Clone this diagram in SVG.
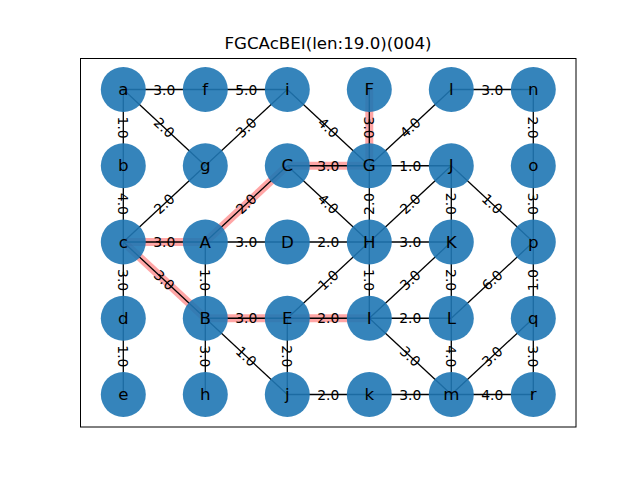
<svg xmlns="http://www.w3.org/2000/svg" width="640" height="480" viewBox="0 0 640 480">
<style>
.e{stroke:#000;stroke-width:1.3;fill:none}
.hl{stroke:#ff0000;stroke-opacity:0.35;stroke-width:8;fill:none}
.n circle{fill:#1f77b4;fill-opacity:0.9}
.n text{font-family:"DejaVu Sans",sans-serif;font-size:16.67px;fill:#000;text-anchor:middle;dominant-baseline:central}
.el{font-family:"DejaVu Sans",sans-serif;font-size:13.89px;fill:#000;text-anchor:middle;dominant-baseline:central}
.t{font-family:"DejaVu Sans",sans-serif;font-size:16.67px;fill:#000;text-anchor:middle}
</style>
<rect width="640" height="480" fill="#fff"/>
<rect x="80.5" y="58.5" width="495.5" height="368.5" fill="none" stroke="#000" stroke-width="1"/>
<text class="t" x="328" y="49">FGCAcBEI(len:19.0)(004)</text>
<g id="connectors">
<g id="highlight">
<line class="hl" x1="369.3" y1="89.5" x2="369.3" y2="165.75"/>
<line class="hl" x1="287.3" y1="165.75" x2="369.3" y2="165.75"/>
<line class="hl" x1="287.3" y1="165.75" x2="205.3" y2="242"/>
<line class="hl" x1="123.3" y1="242" x2="205.3" y2="242"/>
<line class="hl" x1="123.3" y1="242" x2="205.3" y2="318.25"/>
<line class="hl" x1="205.3" y1="318.25" x2="287.3" y2="318.25"/>
<line class="hl" x1="287.3" y1="318.25" x2="369.3" y2="318.25"/>
</g>
<line class="e" x1="123.3" y1="89.5" x2="205.3" y2="89.5"/>
<line class="e" x1="205.3" y1="89.5" x2="287.3" y2="89.5"/>
<line class="e" x1="451.3" y1="89.5" x2="533.3" y2="89.5"/>
<line class="e" x1="287.3" y1="165.75" x2="369.3" y2="165.75"/>
<line class="e" x1="369.3" y1="165.75" x2="451.3" y2="165.75"/>
<line class="e" x1="123.3" y1="242" x2="205.3" y2="242"/>
<line class="e" x1="205.3" y1="242" x2="287.3" y2="242"/>
<line class="e" x1="287.3" y1="242" x2="369.3" y2="242"/>
<line class="e" x1="369.3" y1="242" x2="451.3" y2="242"/>
<line class="e" x1="205.3" y1="318.25" x2="287.3" y2="318.25"/>
<line class="e" x1="287.3" y1="318.25" x2="369.3" y2="318.25"/>
<line class="e" x1="369.3" y1="318.25" x2="451.3" y2="318.25"/>
<line class="e" x1="287.3" y1="394.5" x2="369.3" y2="394.5"/>
<line class="e" x1="369.3" y1="394.5" x2="451.3" y2="394.5"/>
<line class="e" x1="451.3" y1="394.5" x2="533.3" y2="394.5"/>
<line class="e" x1="123.3" y1="89.5" x2="123.3" y2="165.75"/>
<line class="e" x1="369.3" y1="89.5" x2="369.3" y2="165.75"/>
<line class="e" x1="533.3" y1="89.5" x2="533.3" y2="165.75"/>
<line class="e" x1="123.3" y1="165.75" x2="123.3" y2="242"/>
<line class="e" x1="369.3" y1="165.75" x2="369.3" y2="242"/>
<line class="e" x1="451.3" y1="165.75" x2="451.3" y2="242"/>
<line class="e" x1="533.3" y1="165.75" x2="533.3" y2="242"/>
<line class="e" x1="123.3" y1="242" x2="123.3" y2="318.25"/>
<line class="e" x1="205.3" y1="242" x2="205.3" y2="318.25"/>
<line class="e" x1="369.3" y1="242" x2="369.3" y2="318.25"/>
<line class="e" x1="451.3" y1="242" x2="451.3" y2="318.25"/>
<line class="e" x1="533.3" y1="242" x2="533.3" y2="318.25"/>
<line class="e" x1="123.3" y1="318.25" x2="123.3" y2="394.5"/>
<line class="e" x1="205.3" y1="318.25" x2="205.3" y2="394.5"/>
<line class="e" x1="287.3" y1="318.25" x2="287.3" y2="394.5"/>
<line class="e" x1="451.3" y1="318.25" x2="451.3" y2="394.5"/>
<line class="e" x1="533.3" y1="318.25" x2="533.3" y2="394.5"/>
<line class="e" x1="123.3" y1="89.5" x2="205.3" y2="165.75"/>
<line class="e" x1="287.3" y1="89.5" x2="205.3" y2="165.75"/>
<line class="e" x1="287.3" y1="89.5" x2="369.3" y2="165.75"/>
<line class="e" x1="451.3" y1="89.5" x2="369.3" y2="165.75"/>
<line class="e" x1="205.3" y1="165.75" x2="123.3" y2="242"/>
<line class="e" x1="287.3" y1="165.75" x2="205.3" y2="242"/>
<line class="e" x1="287.3" y1="165.75" x2="369.3" y2="242"/>
<line class="e" x1="451.3" y1="165.75" x2="369.3" y2="242"/>
<line class="e" x1="451.3" y1="165.75" x2="533.3" y2="242"/>
<line class="e" x1="123.3" y1="242" x2="205.3" y2="318.25"/>
<line class="e" x1="369.3" y1="242" x2="287.3" y2="318.25"/>
<line class="e" x1="451.3" y1="242" x2="369.3" y2="318.25"/>
<line class="e" x1="533.3" y1="242" x2="451.3" y2="318.25"/>
<line class="e" x1="205.3" y1="318.25" x2="287.3" y2="394.5"/>
<line class="e" x1="369.3" y1="318.25" x2="451.3" y2="394.5"/>
<line class="e" x1="533.3" y1="318.25" x2="451.3" y2="394.5"/>
</g>
<g id="nodes">
<g id="a" class="n"><circle cx="123.3" cy="89.5" r="22.5"/><text x="123.3" y="89.5">a</text></g>
<g id="f" class="n"><circle cx="205.3" cy="89.5" r="22.5"/><text x="205.3" y="89.5">f</text></g>
<g id="i" class="n"><circle cx="287.3" cy="89.5" r="22.5"/><text x="287.3" y="89.5">i</text></g>
<g id="F" class="n"><circle cx="369.3" cy="89.5" r="22.5"/><text x="369.3" y="89.5">F</text></g>
<g id="l" class="n"><circle cx="451.3" cy="89.5" r="22.5"/><text x="451.3" y="89.5">l</text></g>
<g id="n" class="n"><circle cx="533.3" cy="89.5" r="22.5"/><text x="533.3" y="89.5">n</text></g>
<g id="b" class="n"><circle cx="123.3" cy="165.75" r="22.5"/><text x="123.3" y="165.75">b</text></g>
<g id="g" class="n"><circle cx="205.3" cy="165.75" r="22.5"/><text x="205.3" y="165.75">g</text></g>
<g id="C" class="n"><circle cx="287.3" cy="165.75" r="22.5"/><text x="287.3" y="165.75">C</text></g>
<g id="G" class="n"><circle cx="369.3" cy="165.75" r="22.5"/><text x="369.3" y="165.75">G</text></g>
<g id="J" class="n"><circle cx="451.3" cy="165.75" r="22.5"/><text x="451.3" y="165.75">J</text></g>
<g id="o" class="n"><circle cx="533.3" cy="165.75" r="22.5"/><text x="533.3" y="165.75">o</text></g>
<g id="c" class="n"><circle cx="123.3" cy="242" r="22.5"/><text x="123.3" y="242">c</text></g>
<g id="A" class="n"><circle cx="205.3" cy="242" r="22.5"/><text x="205.3" y="242">A</text></g>
<g id="D" class="n"><circle cx="287.3" cy="242" r="22.5"/><text x="287.3" y="242">D</text></g>
<g id="H" class="n"><circle cx="369.3" cy="242" r="22.5"/><text x="369.3" y="242">H</text></g>
<g id="K" class="n"><circle cx="451.3" cy="242" r="22.5"/><text x="451.3" y="242">K</text></g>
<g id="p" class="n"><circle cx="533.3" cy="242" r="22.5"/><text x="533.3" y="242">p</text></g>
<g id="d" class="n"><circle cx="123.3" cy="318.25" r="22.5"/><text x="123.3" y="318.25">d</text></g>
<g id="B" class="n"><circle cx="205.3" cy="318.25" r="22.5"/><text x="205.3" y="318.25">B</text></g>
<g id="E" class="n"><circle cx="287.3" cy="318.25" r="22.5"/><text x="287.3" y="318.25">E</text></g>
<g id="I" class="n"><circle cx="369.3" cy="318.25" r="22.5"/><text x="369.3" y="318.25">I</text></g>
<g id="L" class="n"><circle cx="451.3" cy="318.25" r="22.5"/><text x="451.3" y="318.25">L</text></g>
<g id="q" class="n"><circle cx="533.3" cy="318.25" r="22.5"/><text x="533.3" y="318.25">q</text></g>
<g id="e" class="n"><circle cx="123.3" cy="394.5" r="22.5"/><text x="123.3" y="394.5">e</text></g>
<g id="h" class="n"><circle cx="205.3" cy="394.5" r="22.5"/><text x="205.3" y="394.5">h</text></g>
<g id="j" class="n"><circle cx="287.3" cy="394.5" r="22.5"/><text x="287.3" y="394.5">j</text></g>
<g id="k" class="n"><circle cx="369.3" cy="394.5" r="22.5"/><text x="369.3" y="394.5">k</text></g>
<g id="m" class="n"><circle cx="451.3" cy="394.5" r="22.5"/><text x="451.3" y="394.5">m</text></g>
<g id="r" class="n"><circle cx="533.3" cy="394.5" r="22.5"/><text x="533.3" y="394.5">r</text></g>
</g>
<g id="edge-labels">
<text class="el" x="164.3" y="89.5">3.0</text>
<text class="el" x="246.3" y="89.5">5.0</text>
<text class="el" x="492.3" y="89.5">3.0</text>
<text class="el" x="328.3" y="165.75">3.0</text>
<text class="el" x="410.3" y="165.75">1.0</text>
<text class="el" x="164.3" y="242">3.0</text>
<text class="el" x="246.3" y="242">3.0</text>
<text class="el" x="328.3" y="242">2.0</text>
<text class="el" x="410.3" y="242">3.0</text>
<text class="el" x="246.3" y="318.25">3.0</text>
<text class="el" x="328.3" y="318.25">2.0</text>
<text class="el" x="410.3" y="318.25">2.0</text>
<text class="el" x="328.3" y="394.5">2.0</text>
<text class="el" x="410.3" y="394.5">3.0</text>
<text class="el" x="492.3" y="394.5">4.0</text>
<text class="el" x="123.3" y="127.6" transform="rotate(90 123.3 127.6)">1.0</text>
<text class="el" x="369.3" y="127.6" transform="rotate(90 369.3 127.6)">3.0</text>
<text class="el" x="533.3" y="127.6" transform="rotate(90 533.3 127.6)">2.0</text>
<text class="el" x="123.3" y="203.9" transform="rotate(90 123.3 203.9)">4.0</text>
<text class="el" x="369.3" y="203.9" transform="rotate(-90 369.3 203.9)">2.0</text>
<text class="el" x="451.3" y="203.9" transform="rotate(90 451.3 203.9)">2.0</text>
<text class="el" x="533.3" y="203.9" transform="rotate(90 533.3 203.9)">3.0</text>
<text class="el" x="123.3" y="280.1" transform="rotate(90 123.3 280.1)">3.0</text>
<text class="el" x="205.3" y="280.1" transform="rotate(90 205.3 280.1)">1.0</text>
<text class="el" x="369.3" y="280.1" transform="rotate(90 369.3 280.1)">1.0</text>
<text class="el" x="451.3" y="280.1" transform="rotate(90 451.3 280.1)">2.0</text>
<text class="el" x="533.3" y="280.1" transform="rotate(-90 533.3 280.1)">1.0</text>
<text class="el" x="123.3" y="356.4" transform="rotate(90 123.3 356.4)">1.0</text>
<text class="el" x="205.3" y="356.4" transform="rotate(90 205.3 356.4)">3.0</text>
<text class="el" x="287.3" y="356.4" transform="rotate(90 287.3 356.4)">2.0</text>
<text class="el" x="451.3" y="356.4" transform="rotate(90 451.3 356.4)">4.0</text>
<text class="el" x="533.3" y="356.4" transform="rotate(90 533.3 356.4)">3.0</text>
<text class="el" x="164.3" y="127.6" transform="rotate(42.9 164.3 127.6)">2.0</text>
<text class="el" x="246.3" y="127.6" transform="rotate(-42.9 246.3 127.6)">3.0</text>
<text class="el" x="328.3" y="127.6" transform="rotate(42.9 328.3 127.6)">4.0</text>
<text class="el" x="410.3" y="127.6" transform="rotate(-42.9 410.3 127.6)">4.0</text>
<text class="el" x="164.3" y="203.9" transform="rotate(-42.9 164.3 203.9)">2.0</text>
<text class="el" x="246.3" y="203.9" transform="rotate(-42.9 246.3 203.9)">2.0</text>
<text class="el" x="328.3" y="203.9" transform="rotate(42.9 328.3 203.9)">4.0</text>
<text class="el" x="410.3" y="203.9" transform="rotate(-42.9 410.3 203.9)">2.0</text>
<text class="el" x="492.3" y="203.9" transform="rotate(42.9 492.3 203.9)">1.0</text>
<text class="el" x="164.3" y="280.1" transform="rotate(42.9 164.3 280.1)">3.0</text>
<text class="el" x="328.3" y="280.1" transform="rotate(-42.9 328.3 280.1)">1.0</text>
<text class="el" x="410.3" y="280.1" transform="rotate(-42.9 410.3 280.1)">3.0</text>
<text class="el" x="492.3" y="280.1" transform="rotate(-42.9 492.3 280.1)">6.0</text>
<text class="el" x="246.3" y="356.4" transform="rotate(42.9 246.3 356.4)">1.0</text>
<text class="el" x="410.3" y="356.4" transform="rotate(42.9 410.3 356.4)">3.0</text>
<text class="el" x="492.3" y="356.4" transform="rotate(-42.9 492.3 356.4)">3.0</text>
</g>
</svg>
